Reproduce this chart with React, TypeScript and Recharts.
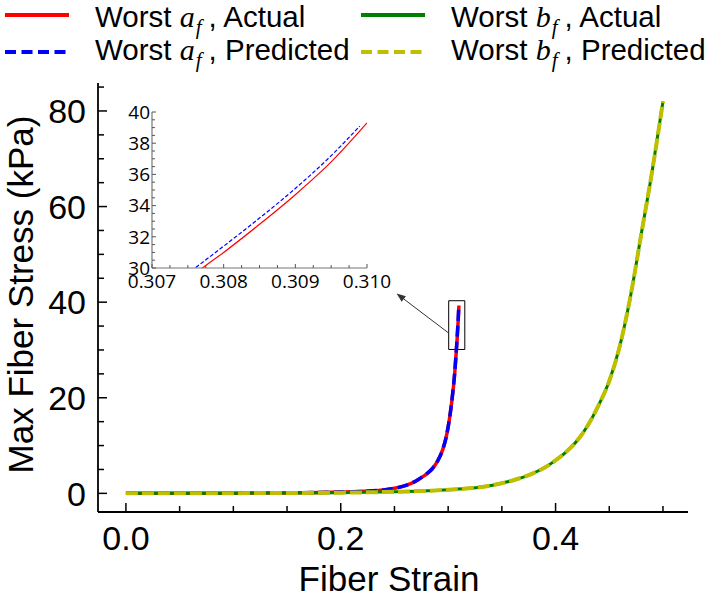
import React from "react";
import { LineChart, Line, XAxis, YAxis, ReferenceArea, ReferenceLine } from "recharts";

const SANS = '"Liberation Sans", Arial, sans-serif';
const SERIF = '"Liberation Serif", "DejaVu Serif", serif';
const INSET_FONT = '"Open Sans", sans-serif';

// worst a_f : actual and predicted stress (kPa) vs fiber strain
const strainA = [0, 0.05, 0.1, 0.15, 0.2, 0.22, 0.24, 0.25, 0.26, 0.27, 0.275, 0.28, 0.285, 0.29, 0.295, 0.298, 0.3, 0.302, 0.304, 0.306, 0.3077, 0.308, 0.3085, 0.309, 0.3095, 0.31];
const stressAActual = [0, 0.01, 0.03, 0.1, 0.28, 0.42, 0.72, 1.05, 1.6, 2.6, 3.3, 4.1, 5.1, 6.7, 9.2, 11.6, 13.9, 16.8, 20.4, 24.8, 30.0, 31.0, 32.8, 34.7, 36.8, 39.3];
const strainAPred = [0, 0.05, 0.1, 0.15, 0.2, 0.22, 0.24, 0.25, 0.26, 0.27, 0.275, 0.28, 0.285, 0.29, 0.295, 0.298, 0.3, 0.302, 0.304, 0.306, 0.3076, 0.308, 0.3085, 0.309, 0.3095, 0.3099];
const stressAPred = [0, 0.01, 0.03, 0.1, 0.28, 0.42, 0.72, 1.05, 1.6, 2.6, 3.3, 4.1, 5.1, 6.7, 9.2, 11.6, 13.9, 16.8, 20.5, 25.0, 30.0, 31.4, 33.2, 35.1, 37.2, 39.1];

// worst b_f
const strainB = [0, 0.05, 0.1, 0.15, 0.2, 0.25, 0.275, 0.3, 0.32, 0.34, 0.36, 0.37, 0.38, 0.39, 0.4, 0.41, 0.42, 0.43, 0.44, 0.45, 0.46, 0.47, 0.48, 0.49, 0.5];
const stressBActual = [0, 0.01, 0.04, 0.08, 0.15, 0.32, 0.48, 0.75, 1.05, 1.65, 2.7, 3.4, 4.3, 5.4, 6.9, 8.7, 11.0, 14.2, 18.4, 23.5, 31.0, 41.5, 54.5, 67.5, 82.0];
const stressBPred = [0, 0.01, 0.04, 0.08, 0.15, 0.32, 0.48, 0.75, 1.05, 1.65, 2.7, 3.4, 4.3, 5.4, 6.9, 8.7, 11.0, 14.2, 18.4, 23.5, 31.0, 41.5, 54.5, 67.5, 82.0];

// ticks
const xTicks = [0, 0.05, 0.1, 0.15, 0.2, 0.25, 0.3, 0.35, 0.4, 0.45, 0.5];
const xLabelTicks = [0, 0.2, 0.4];
const yTicks = [0, 5, 10, 15, 20, 25, 30, 35, 40, 45, 50, 55, 60, 65, 70, 75, 80, 85];
const yLabelTicks = [0, 20, 40, 60, 80];

const insetXTicks = [0.307, 0.30725, 0.3075, 0.30775, 0.308, 0.30825, 0.3085, 0.30875, 0.309, 0.30925, 0.3095, 0.30975, 0.31];
const insetXLabelTicks = [0.307, 0.308, 0.309, 0.31];
const insetYTicks = [30, 30.5, 31, 31.5, 32, 32.5, 33, 33.5, 34, 34.5, 35, 35.5, 36, 36.5, 37, 37.5, 38, 38.5, 39, 39.5, 40];
const insetYLabelTicks = [30, 32, 34, 36, 38, 40];

// zoom box and arrow (data coordinates)
const zoomBox = { x1: 0.3005, x2: 0.3155, y1: 30.1, y2: 40.3 };
const arrowFrom = { x: 0.3007, y: 33.5 };
const arrowTo = { x: 0.252, y: 41.8 };

const rows = (xs: number[], ys: number[]) => xs.map((x, i) => ({ x, y: ys[i] }));
const dataAActual = rows(strainA, stressAActual);
const dataAPred = rows(strainAPred, stressAPred);
const dataBActual = rows(strainB, stressBActual);
const dataBPred = rows(strainB, stressBPred);

const has = (list: number[], v: number) => list.some((t) => Math.abs(t - v) < 1e-9);

type TickCfg = {
  labels: number[];
  fmt: (v: number) => string;
  major: number;
  minor: number;
  fontSize: number;
  fontFamily: string;
  offset: number;
  stroke: string;
  sw: number;
};

function edgeTick(side: "bottom" | "top" | "left" | "right", c: TickCfg) {
  return (p: any) => {
    const { x, y, payload } = p;
    const v = payload.value as number;
    const big = has(c.labels, v);
    const len = big ? c.major : c.minor;
    let line;
    let label = null;
    if (side === "bottom") {
      line = <line x1={x} x2={x} y1={y} y2={y - len} stroke={c.stroke} strokeWidth={c.sw} />;
      if (big)
        label = (
          <text x={x} y={y + c.offset} textAnchor="middle" fontSize={c.fontSize} fontFamily={c.fontFamily} fill="#000">
            {c.fmt(v)}
          </text>
        );
    } else if (side === "top") {
      line = <line x1={x} x2={x} y1={y} y2={y + len} stroke={c.stroke} strokeWidth={c.sw} />;
    } else if (side === "left") {
      line = <line x1={x} x2={x + len} y1={y} y2={y} stroke={c.stroke} strokeWidth={c.sw} />;
      if (big)
        label = (
          <text x={x - c.offset} y={y + c.fontSize * 0.36} textAnchor="end" fontSize={c.fontSize} fontFamily={c.fontFamily} fill="#000">
            {c.fmt(v)}
          </text>
        );
    } else {
      line = <line x1={x} x2={x - len} y1={y} y2={y} stroke={c.stroke} strokeWidth={c.sw} />;
    }
    return (
      <g>
        {line}
        {label}
      </g>
    );
  };
}

const mainX: TickCfg = { labels: xLabelTicks, fmt: (v) => v.toFixed(1), major: 9, minor: 6, fontSize: 34, fontFamily: SANS, offset: 38, stroke: "#000", sw: 1.5 };
const mainY: TickCfg = { labels: yLabelTicks, fmt: (v) => String(v), major: 9, minor: 6, fontSize: 34, fontFamily: SANS, offset: 12, stroke: "#000", sw: 1.5 };
const insX: TickCfg = { labels: insetXLabelTicks, fmt: (v) => v.toFixed(3), major: 4, minor: 3, fontSize: 19, fontFamily: INSET_FONT, offset: 20, stroke: "#555", sw: 1 };
const insY: TickCfg = { labels: insetYLabelTicks, fmt: (v) => String(v), major: 4, minor: 3, fontSize: 19, fontFamily: INSET_FONT, offset: 2, stroke: "#555", sw: 1 };

const arrowShape = (p: any) => {
  const { x1, y1, x2, y2 } = p;
  const ang = Math.atan2(y2 - y1, x2 - x1);
  const L = 9;
  const W = 3.5;
  const bx = x2 - L * Math.cos(ang);
  const by = y2 - L * Math.sin(ang);
  const pts = `${x2},${y2} ${bx + W * Math.sin(ang)},${by - W * Math.cos(ang)} ${bx - W * Math.sin(ang)},${by + W * Math.cos(ang)}`;
  return (
    <g>
      <line x1={x1} y1={y1} x2={bx} y2={by} stroke="#333" strokeWidth={1} />
      <polygon points={pts} fill="#333" />
    </g>
  );
};

function LegendItem({ x, y, lineY, color, dashed, sym, label }: { x: number; y: number; lineY: number; color: string; dashed: boolean; sym: string; label: string }) {
  return (
    <g>
      <line x1={x} x2={x + 64} y1={lineY} y2={lineY} stroke={color} strokeWidth={4} strokeDasharray={dashed ? "11 5.5" : undefined} />
      <text x={x + 90} y={y} fontSize={29.5} fontFamily={SANS} fill="#000">
        Worst{" "}
        <tspan fontFamily={SERIF} fontStyle="italic" fontSize={30}>
          {sym}
        </tspan>
        <tspan fontFamily={SERIF} fontStyle="italic" fontSize={21} dy={7} dx={1}>
          f
        </tspan>
        <tspan dy={-7} dx={7}>
          , {label}
        </tspan>
      </text>
    </g>
  );
}

function Inset() {
  const axisLine = { stroke: "#777", strokeWidth: 1.2 };
  return (
    <div style={{ position: "absolute", left: 92, top: 100 }}>
      <LineChart width={315} height={200} margin={{ top: 12, right: 40, bottom: 0, left: 0 }}>
        <XAxis type="number" dataKey="x" domain={[0.307, 0.31]} allowDataOverflow ticks={insetXTicks} interval={0} tickSize={0} tickMargin={0} tickLine={false} height={32} axisLine={axisLine} tick={edgeTick("bottom", insX)} />
        <XAxis xAxisId="top" orientation="top" type="number" dataKey="x" domain={[0.307, 0.31]} allowDataOverflow ticks={insetXTicks} interval={0} tickSize={0} tickMargin={0} tickLine={false} height={0} axisLine={axisLine} tick={edgeTick("top", insX)} />
        <YAxis type="number" domain={[30, 40]} allowDataOverflow ticks={insetYTicks} interval={0} tickSize={0} tickMargin={0} tickLine={false} width={60} axisLine={axisLine} tick={edgeTick("left", insY)} />
        <YAxis yAxisId="right" orientation="right" type="number" domain={[30, 40]} allowDataOverflow ticks={insetYTicks} interval={0} tickSize={0} tickMargin={0} tickLine={false} width={0} axisLine={axisLine} tick={edgeTick("right", insY)} />
        <Line data={dataAActual} dataKey="y" type="monotone" stroke="#ff0000" strokeWidth={1.2} dot={false} isAnimationActive={false} />
        <Line data={dataAPred} dataKey="y" type="monotone" stroke="#0000ff" strokeWidth={1.2} strokeDasharray="4 2" dot={false} isAnimationActive={false} />
      </LineChart>
    </div>
  );
}

export default function App() {
  const axisLine = { stroke: "#000", strokeWidth: 1.8 };
  const xDomain: [number, number] = [-0.026, 0.5233];
  const yDomain: [number, number] = [-3.9, 85.85];
  return (
    <div style={{ position: "absolute", left: 0, top: 0, width: 708, height: 598, background: "#fff" }}>
      <svg width={708} height={74} style={{ position: "absolute", left: 0, top: 0 }}>
        <LegendItem x={5} y={27} lineY={15} color="#ff0000" dashed={false} sym="a" label="Actual" />
        <LegendItem x={5} y={60} lineY={52} color="#0000ff" dashed sym="a" label="Predicted" />
        <LegendItem x={361} y={27} lineY={15} color="#008000" dashed={false} sym="b" label="Actual" />
        <LegendItem x={361} y={60} lineY={52} color="#bfbf00" dashed sym="b" label="Predicted" />
      </svg>
      <div style={{ position: "absolute", left: 0, top: 0 }}>
        <LineChart width={708} height={598} margin={{ top: 83, right: 20, bottom: 0, left: 0 }}>
          <XAxis
            type="number"
            dataKey="x"
            domain={xDomain}
            allowDataOverflow
            ticks={xTicks}
            interval={0}
            tickSize={0}
            tickMargin={0}
            tickLine={false}
            height={86}
            axisLine={axisLine}
            tick={edgeTick("bottom", mainX)}
            label={(p: any) => {
              const vb = p.viewBox;
              return (
                <text x={vb.x + vb.width / 2 - 4} y={vb.y + 79} textAnchor="middle" fontSize={35} fontFamily={SANS} fill="#000">
                  Fiber Strain
                </text>
              );
            }}
          />
          <XAxis xAxisId="top" orientation="top" type="number" dataKey="x" domain={xDomain} allowDataOverflow ticks={xTicks} interval={0} tickSize={0} tickMargin={0} tickLine={false} height={0} axisLine={axisLine} tick={edgeTick("top", mainX)} />
          <YAxis
            type="number"
            domain={yDomain}
            allowDataOverflow
            ticks={yTicks}
            interval={0}
            tickSize={0}
            tickMargin={0}
            tickLine={false}
            width={98}
            axisLine={axisLine}
            tick={edgeTick("left", mainY)}
            label={(p: any) => {
              const vb = p.viewBox;
              const cy = vb.y + vb.height / 2 - 3;
              return (
                <text x={33} y={cy} transform={`rotate(-90, 33, ${cy})`} textAnchor="middle" fontSize={35} fontFamily={SANS} fill="#000">
                  Max Fiber Stress (kPa)
                </text>
              );
            }}
          />
          <YAxis yAxisId="right" orientation="right" type="number" domain={yDomain} allowDataOverflow ticks={yTicks} interval={0} tickSize={0} tickMargin={0} tickLine={false} width={0} axisLine={axisLine} tick={edgeTick("right", mainY)} />
          <Line data={dataAActual} dataKey="y" type="monotone" stroke="#ff0000" strokeWidth={3.5} dot={false} isAnimationActive={false} />
          <Line data={dataAPred} dataKey="y" type="monotone" stroke="#0000ff" strokeWidth={3.5} strokeDasharray="11 5" dot={false} isAnimationActive={false} />
          <Line data={dataBActual} dataKey="y" type="monotone" stroke="#008000" strokeWidth={3} dot={false} isAnimationActive={false} />
          <Line data={dataBPred} dataKey="y" type="monotone" stroke="#bfbf00" strokeWidth={4} strokeDasharray="12 4" dot={false} isAnimationActive={false} />
          <ReferenceArea x1={zoomBox.x1} x2={zoomBox.x2} y1={zoomBox.y1} y2={zoomBox.y2} stroke="#000" strokeWidth={1} fill="none" fillOpacity={0} />
          <ReferenceLine segment={[arrowFrom, arrowTo]} shape={arrowShape} />
        </LineChart>
      </div>
      <Inset />
    </div>
  );
}
